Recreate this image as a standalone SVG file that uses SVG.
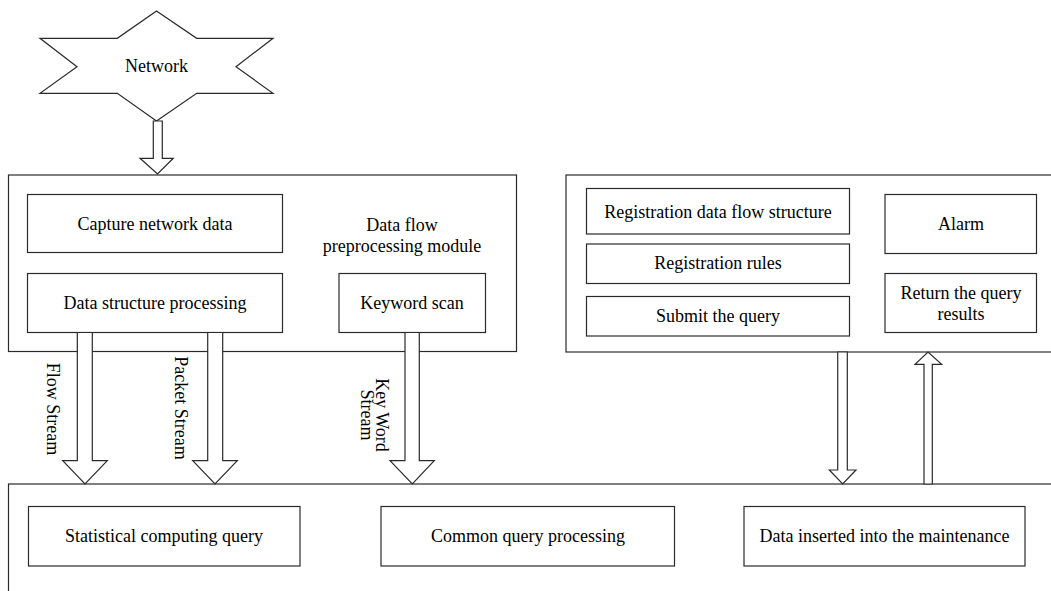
<svg xmlns="http://www.w3.org/2000/svg" width="1051" height="591" viewBox="0 0 1051 591">
<style>
.b{fill:#fff;stroke:#2a2a2a;stroke-width:1.2}
.t{font-family:"Liberation Serif","Times New Roman",serif;font-size:18px;fill:#000;text-anchor:middle}
.a{fill:#fff;stroke:#2a2a2a;stroke-width:1.2;stroke-linejoin:miter}
</style>
<rect width="1051" height="591" fill="#fff"/>
<g id="network">
<polygon class="b" points="156.5,11 196.7,38.3 273,38.3 236,66.7 273,93.3 196.7,93.3 156.5,121 117.3,93.3 40,93.3 77,66.7 40,38.3 117.3,38.3"/>
<text class="t" x="156.5" y="72">Network</text>
</g>
<g id="preprocessing-module">
<rect class="b" x="8.5" y="175" width="508" height="176.5"/>
<text class="t" x="402" y="231">Data flow</text>
<text class="t" x="402" y="252">preprocessing module</text>
</g>
<g id="capture">
<rect class="b" x="27.5" y="194.5" width="255" height="58"/>
<text class="t" x="155" y="230">Capture network data</text>
</g>
<g id="data-structure">
<rect class="b" x="27.5" y="273.5" width="255" height="59"/>
<text class="t" x="155" y="309">Data structure processing</text>
</g>
<g id="keyword-scan">
<rect class="b" x="339" y="273.5" width="146.5" height="59"/>
<text class="t" x="412" y="309">Keyword scan</text>
</g>
<g id="query-module">
<rect class="b" x="566" y="175" width="500" height="177"/>
</g>
<g id="reg-flow">
<rect class="b" x="586.5" y="188.5" width="263" height="45.5"/>
<text class="t" x="718" y="217.5">Registration data flow structure</text>
</g>
<g id="reg-rules">
<rect class="b" x="586.5" y="244" width="263" height="39.5"/>
<text class="t" x="718" y="269">Registration rules</text>
</g>
<g id="submit">
<rect class="b" x="586.5" y="296.5" width="263" height="39.5"/>
<text class="t" x="718" y="322">Submit the query</text>
</g>
<g id="alarm">
<rect class="b" x="885" y="194.5" width="151.5" height="59"/>
<text class="t" x="961" y="230">Alarm</text>
</g>
<g id="return-results">
<rect class="b" x="885" y="273.5" width="151.5" height="59"/>
<text class="t" x="961" y="299">Return the query</text>
<text class="t" x="961" y="320">results</text>
</g>
<g id="query-engine">
<rect class="b" x="8.5" y="484" width="1060" height="120"/>
</g>
<g id="statistical">
<rect class="b" x="28.5" y="506.5" width="271.5" height="59.5"/>
<text class="t" x="164" y="542">Statistical computing query</text>
</g>
<g id="common">
<rect class="b" x="381" y="506.5" width="293.5" height="59.5"/>
<text class="t" x="528" y="542">Common query processing</text>
</g>
<g id="data-inserted">
<rect class="b" x="744" y="506.5" width="281" height="59.5"/>
<text class="t" x="884.5" y="542">Data inserted into the maintenance</text>
</g>
<g id="connectors">
<polygon class="a" points="153.3,121 162.3,121 162.3,158.3 173.3,158.3 157.5,174 140,158.3 153.3,158.3"/>
<polygon class="a" points="77.3,332.5 92.3,332.5 92.3,460.7 107.3,460.7 85,484 62.7,460.7 77.3,460.7"/>
<polygon class="a" points="207.7,332.5 222.7,332.5 222.7,460.7 237.3,460.7 215,484 192.7,460.7 207.7,460.7"/>
<polygon class="a" points="405,332.5 419.3,332.5 419.3,460.7 434.3,460.7 412.3,484 390,460.7 405,460.7"/>
<polygon class="a" points="837.7,352 847.3,352 847.3,470 856,470 842.7,484 829.3,470 837.7,470"/>
<polygon class="a" points="924,484 932.3,484 932.3,364.3 941.7,364.3 928,352 915,364.3 924,364.3"/>
<text class="t" transform="translate(47,409) rotate(90)">Flow Stream</text>
<text class="t" transform="translate(175,408) rotate(90)">Packet Stream</text>
<text class="t" transform="translate(376,415) rotate(90)">Key Word</text>
<text class="t" transform="translate(361,415) rotate(90)">Stream</text>
</g>
</svg>
